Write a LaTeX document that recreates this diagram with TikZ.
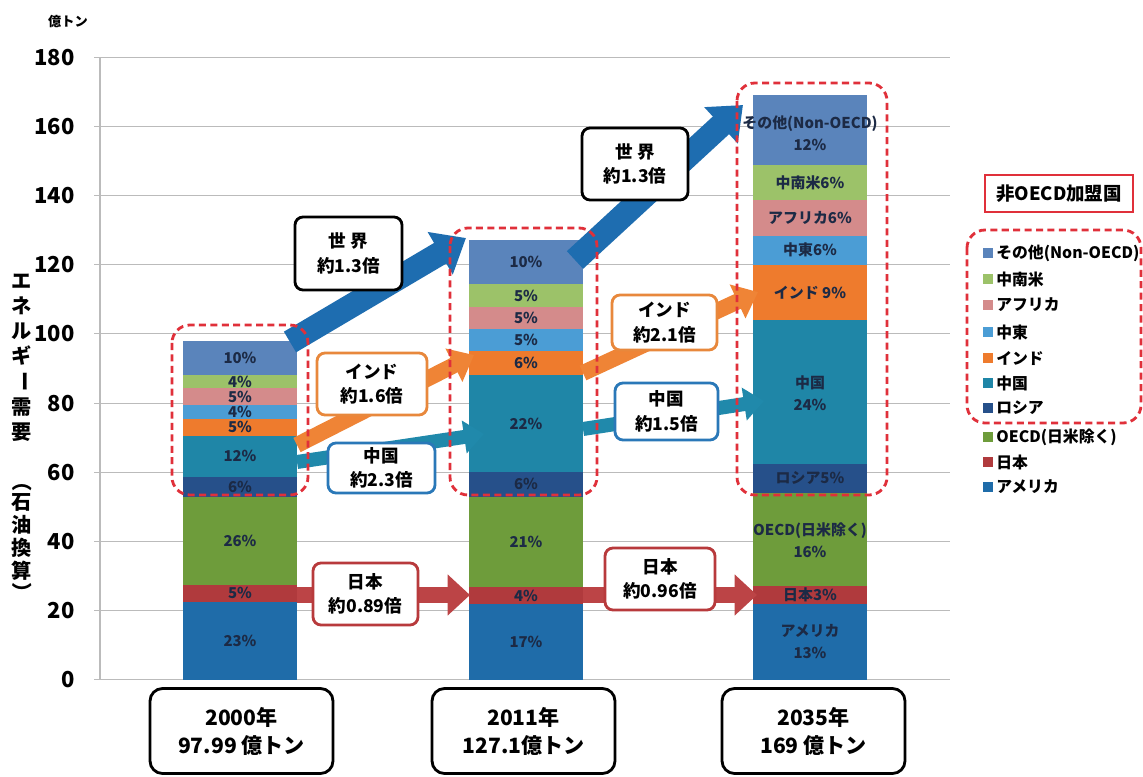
\documentclass[tikz,border=0pt]{standalone}
\usepackage{fontspec}
\setmainfont{Noto Sans CJK JP}
\usetikzlibrary{arrows.meta}

\definecolor{usa}{HTML}{1F6CA9}
\definecolor{jpn}{HTML}{B03A3D}
\definecolor{oecd}{HTML}{6E9C3B}
\definecolor{rus}{HTML}{26508A}
\definecolor{chn}{HTML}{1F86A7}
\definecolor{ind}{HTML}{EE7B2D}
\definecolor{mde}{HTML}{4B9DD5}
\definecolor{afr}{HTML}{D48B8B}
\definecolor{lam}{HTML}{9CC269}
\definecolor{oth}{HTML}{5A84BB}
\definecolor{labtext}{HTML}{1C2A45}
\definecolor{dashred}{HTML}{E0303A}
\definecolor{gridgray}{HTML}{BBBBBB}
\definecolor{wldarrow}{HTML}{1E6DB0}
\definecolor{indarrow}{HTML}{EF8436}
\definecolor{chnarrow}{HTML}{2089AB}
\definecolor{jpnarrow}{HTML}{BC4446}
\definecolor{indline}{HTML}{E8883C}
\definecolor{chnline}{HTML}{2A78B8}
\definecolor{jpnline}{HTML}{B83A3C}

\begin{document}
\begin{tikzpicture}[x=0.02cm,y=-0.02cm,
  pct/.style={font=\bfseries\fontsize{8.5}{12.5}\selectfont,text=labtext,inner sep=0pt,align=center},
  ticklab/.style={font=\bfseries\fontsize{12.5}{14}\selectfont,anchor=east,inner sep=0pt},
  ytext/.style={font=\bfseries\fontsize{11.5}{14.2}\selectfont,align=center,inner sep=0pt},
  callout/.style={draw,fill=white,line width=1.6pt,rounded corners=0.16cm,align=center,inner sep=0pt,font=\bfseries\fontsize{10}{14}\selectfont},
  yearbox/.style={draw,fill=white,line width=1.6pt,rounded corners=0.25cm,align=center,inner sep=0pt,minimum width=3.66cm,minimum height=1.70cm,font=\bfseries\fontsize{12}{16}\selectfont},
  redbox/.style={draw=dashred,line width=1.6pt,dash pattern=on 4pt off 2.5pt,rounded corners=0.36cm},
  legtext/.style={font=\bfseries\fontsize{9}{10}\selectfont,anchor=west,inner sep=0pt},
  wldarr/.style={draw=wldarrow,line width=0.48cm,-{Triangle[length=0.6cm,width=0.95cm]}},
  indarr/.style={draw=indarrow,line width=0.32cm,-{Triangle[length=0.45cm,width=0.72cm]}},
  chnarr/.style={draw=chnarrow,line width=0.28cm,-{Triangle[length=0.4cm,width=0.64cm]}},
  jpnarr/.style={draw=jpnarrow,line width=0.32cm,-{Triangle[length=0.45cm,width=0.8cm]}}]

\useasboundingbox[fill=white] (0,0) rectangle (1143,777);

%Axis titles
\node[font=\bfseries\fontsize{7.5}{8}\selectfont,inner sep=0pt] (unit) at (68,22) {億トン};
\node[ytext] (ytitle) at (22,319.5) {エ\\ネ\\ル\\ギ};
\node[ytext,rotate=-90] (ybar) at (22,382) {ー};
\node[ytext] (ytitle2) at (22,419.5) {需\\要};
\node[ytext,rotate=-90] (lparen) at (22,482) {（};
\node[ytext,font=\bfseries\fontsize{11.5}{13}\selectfont] (ynote) at (22,537) {石\\油\\換\\算};
\node[ytext,rotate=-90] (rparen) at (22,593) {）};

\begin{scope}[yshift=-13.6cm,y=0.0692cm]
%Draw the grid
\draw[gridgray,line width=0.6pt] (100,0) -- (100,180);
\draw[gridgray,line width=0.6pt] (94,0) -- (950,0);
\draw[gridgray,line width=0.6pt] (94,20) -- (950,20);
\draw[gridgray,line width=0.6pt] (94,40) -- (950,40);
\draw[gridgray,line width=0.6pt] (94,60) -- (950,60);
\draw[gridgray,line width=0.6pt] (94,80) -- (950,80);
\draw[gridgray,line width=0.6pt] (94,100) -- (950,100);
\draw[gridgray,line width=0.6pt] (94,120) -- (950,120);
\draw[gridgray,line width=0.6pt] (94,140) -- (950,140);
\draw[gridgray,line width=0.6pt] (94,160) -- (950,160);
\draw[gridgray,line width=0.6pt] (94,180) -- (950,180);

\node[ticklab] (t0) at (75,0) {0};
\node[ticklab] (t20) at (75,20) {20};
\node[ticklab] (t40) at (75,40) {40};
\node[ticklab] (t60) at (75,60) {60};
\node[ticklab] (t80) at (75,80) {80};
\node[ticklab] (t100) at (75,100) {100};
\node[ticklab] (t120) at (75,120) {120};
\node[ticklab] (t140) at (75,140) {140};
\node[ticklab] (t160) at (75,160) {160};
\node[ticklab] (t180) at (75,180) {180};

%Bar 2000
\fill[usa] (183,0) rectangle (297,22.54);
\fill[jpn] (183,22.54) rectangle (297,27.44);
\fill[oecd] (183,27.44) rectangle (297,52.91);
\fill[rus] (183,52.91) rectangle (297,58.79);
\fill[chn] (183,58.79) rectangle (297,70.55);
\fill[ind] (183,70.55) rectangle (297,75.45);
\fill[mde] (183,75.45) rectangle (297,79.37);
\fill[afr] (183,79.37) rectangle (297,84.27);
\fill[lam] (183,84.27) rectangle (297,88.19);
\fill[oth] (183,88.19) rectangle (297,97.99);

\node[pct] (a1) at (240,11.27) {23\%};
\node[pct] (a2) at (240,24.99) {5\%};
\node[pct] (a3) at (240,40.18) {26\%};
\node[pct] (a4) at (240,55.85) {6\%};
\node[pct] (a5) at (240,64.67) {12\%};
\node[pct] (a6) at (240,73.0) {5\%};
\node[pct] (a7) at (240,77.41) {4\%};
\node[pct] (a8) at (240,81.82) {5\%};
\node[pct] (a9) at (240,86.23) {4\%};
\node[pct] (a10) at (240,93.09) {10\%};

%Bar 2011
\fill[usa] (469,0) rectangle (583,22);
\fill[jpn] (469,22) rectangle (583,26.8);
\fill[oecd] (469,26.8) rectangle (583,53);
\fill[rus] (469,53) rectangle (583,60);
\fill[chn] (469,60) rectangle (583,88);
\fill[ind] (469,88) rectangle (583,95);
\fill[mde] (469,95) rectangle (583,101.3);
\fill[afr] (469,101.3) rectangle (583,107.8);
\fill[lam] (469,107.8) rectangle (583,114.3);
\fill[oth] (469,114.3) rectangle (583,127.1);

\node[pct] (b1) at (526,11) {17\%};
\node[pct] (b2) at (526,24.4) {4\%};
\node[pct] (b3) at (526,39.9) {21\%};
\node[pct] (b4) at (526,56.5) {6\%};
\node[pct] (b5) at (526,74) {22\%};
\node[pct] (b6) at (526,91.5) {6\%};
\node[pct] (b7) at (526,98.15) {5\%};
\node[pct] (b8) at (526,104.55) {5\%};
\node[pct] (b9) at (526,111.05) {5\%};
\node[pct] (b10) at (526,120.7) {10\%};

%Bar 2035
\fill[usa] (753,0) rectangle (867,22);
\fill[jpn] (753,22) rectangle (867,27);
\fill[oecd] (753,27) rectangle (867,54);
\fill[rus] (753,54) rectangle (867,62.5);
\fill[chn] (753,62.5) rectangle (867,104);
\fill[ind] (753,104) rectangle (867,120);
\fill[mde] (753,120) rectangle (867,128.4);
\fill[afr] (753,128.4) rectangle (867,138.6);
\fill[lam] (753,138.6) rectangle (867,148.7);
\fill[oth] (753,148.7) rectangle (867,169);

\node[pct] (c1) at (810,11) {アメリカ\\13\%};
\node[pct] (c2) at (810,24.5) {日本3\%};
\node[pct] (c3) at (810,40.5) {OECD(日米除く)\\16\%};
\node[pct] (c4) at (810,58.25) {ロシア5\%};
\node[pct] (c5) at (810,83) {中国\\24\%};
\node[pct] (c6) at (810,112) {インド 9\%};
\node[pct] (c7) at (810,124.2) {中東6\%};
\node[pct] (c8) at (810,133.5) {アフリカ6\%};
\node[pct] (c9) at (810,143.65) {中南米6\%};
\node[pct] (c10) at (810,158) {その他(Non-OECD)\\12\%};
\end{scope}

%Growth arrows
\coordinate (w1s) at (290,342);
\coordinate (w1e) at (466,238);
\coordinate (w2s) at (575,260);
\coordinate (w2e) at (743,105);
\coordinate (i1s) at (297,445);
\coordinate (i1e) at (474,355);
\coordinate (i2s) at (583,373);
\coordinate (i2e) at (758,292);
\coordinate (c1s) at (297,462);
\coordinate (c1e) at (484,434);
\coordinate (c2s) at (583,429);
\coordinate (c2e) at (764,401);
\coordinate (j1s) at (297,595);
\coordinate (j1e) at (470,595);
\coordinate (j2s) at (583,595);
\coordinate (j2e) at (757,595);

\draw[wldarr] (w1s) -- (w1e);
\draw[wldarr] (w2s) -- (w2e);
\draw[indarr] (i1s) -- (i1e);
\draw[indarr] (i2s) -- (i2e);
\draw[chnarr] (c1s) -- (c1e);
\draw[chnarr] (c2s) -- (c2e);
\draw[jpnarr] (j1s) -- (j1e);
\draw[jpnarr] (j2s) -- (j2e);

%Non-OECD groups
\draw[redbox] (172,325) rectangle (308,495);
\draw[redbox] (450,228) rectangle (597,495);
\draw[redbox] (737,83) rectangle (887,495);
\draw[redbox] (967,230) rectangle (1141,423);

%Callouts
\node[callout,minimum width=2.14cm,minimum height=1.46cm] (world1) at (348.5,253.5) {世 界\\約1.3倍};
\node[callout,minimum width=2.12cm,minimum height=1.44cm] (world2) at (635,164) {世 界\\約1.3倍};
\node[callout,draw=indline,minimum width=2.2cm,minimum height=1.24cm] (india1) at (372,384) {インド\\約1.6倍};
\node[callout,draw=indline,minimum width=2.1cm,minimum height=1.1cm] (india2) at (664.5,322.5) {インド\\約2.1倍};
\node[callout,draw=chnline,minimum width=2.14cm,minimum height=1.0cm] (china1) at (381.5,468) {中国\\約2.3倍};
\node[callout,draw=chnline,minimum width=2.06cm,minimum height=1.14cm] (china2) at (666.5,411.5) {中国\\約1.5倍};
\node[callout,draw=jpnline,minimum width=2.1cm,minimum height=1.24cm] (japan1) at (365.5,594) {日本\\約0.89倍};
\node[callout,draw=jpnline,minimum width=2.2cm,minimum height=1.24cm] (japan2) at (660,579) {日本\\約0.96倍};

%Year boxes
\node[yearbox] (y2000) at (241.5,731) {2000年\\97.99 億トン};
\node[yearbox] (y2011) at (523.5,731) {2011年\\127.1億トン};
\node[yearbox] (y2035) at (813.5,731) {2035年\\169 億トン};

%Legend
\node[draw=dashred,line width=1.6pt,minimum width=2.96cm,minimum height=0.74cm,inner sep=0pt,font=\bfseries\fontsize{10.5}{12}\selectfont] (legtitle) at (1059,193.5) {非OECD加盟国};

\fill[oth] (983,248) rectangle (993,258);
\fill[lam] (983,274) rectangle (993,284);
\fill[afr] (983,300) rectangle (993,310);
\fill[mde] (983,327) rectangle (993,337);
\fill[ind] (983,353) rectangle (993,363);
\fill[chn] (983,378) rectangle (993,388);
\fill[rus] (983,403) rectangle (993,413);
\fill[oecd] (983,432) rectangle (993,442);
\fill[jpn] (983,457) rectangle (993,467);
\fill[usa] (983,482) rectangle (993,492);

\node[legtext] (l1) at (996,253) {その他(Non-OECD)};
\node[legtext] (l2) at (996,279) {中南米};
\node[legtext] (l3) at (996,305) {アフリカ};
\node[legtext] (l4) at (996,332) {中東};
\node[legtext] (l5) at (996,358) {インド};
\node[legtext] (l6) at (996,383) {中国};
\node[legtext] (l7) at (996,408) {ロシア};
\node[legtext] (l8) at (996,437) {OECD(日米除く)};
\node[legtext] (l9) at (996,462) {日本};
\node[legtext] (l10) at (996,487) {アメリカ};

\end{tikzpicture}
\end{document}
